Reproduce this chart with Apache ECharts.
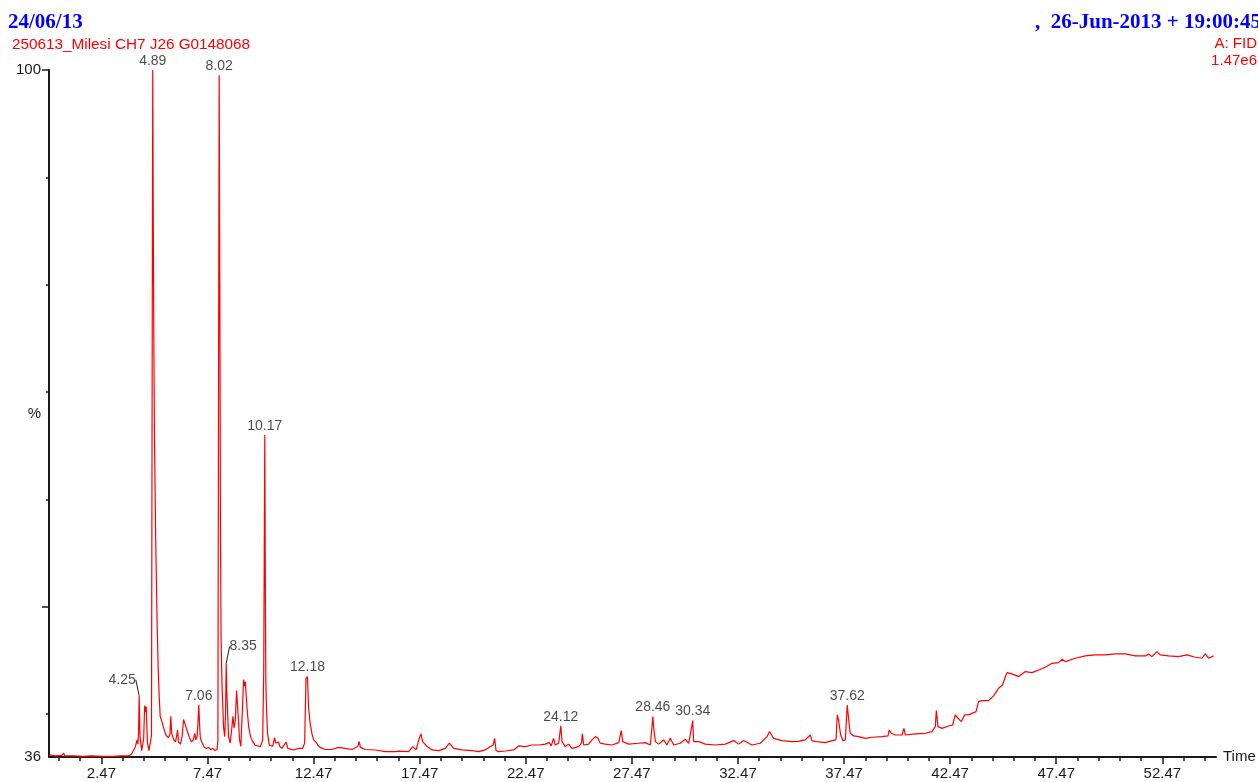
<!DOCTYPE html>
<html>
<head>
<meta charset="utf-8">
<script src="https://cdn.jsdelivr.net/npm/echarts@6/dist/echarts.min.js"></script>
<style>
html,body{margin:0;padding:0;background:#fff;}
#chart{width:1258px;height:782px;}
</style>
</head>
<body>
<div id="chart"></div>
<script>
// Retention time (min)
var times = [
0.02,0.3,0.6,0.69,0.75,1.2,1.6,2.0,2.5,3.0,3.4,3.75,3.9,3.99,4.07,4.15,4.19,4.22,4.25,4.29,4.37,4.46,4.51,4.55,4.58,4.64,4.71,4.79,
4.83,4.86,4.89,4.91,4.94,4.97,5.03,5.10,5.15,5.19,5.24,5.32,5.42,5.52,5.62,5.70,5.74,5.78,5.88,5.96,6.02,6.06,6.10,6.20,6.28,6.34,6.40,6.44,6.52,6.62,6.72,6.80,6.87,6.92,6.98,7.02,7.06,7.09,7.13,7.22,7.32,7.42,7.52,7.62,7.72,7.82,7.92,
7.96,7.99,8.02,8.05,8.08,8.11,8.15,8.18,8.23,8.28,8.32,8.35,8.38,8.41,8.46,8.54,8.62,8.67,8.72,8.78,8.84,8.89,8.93,8.98,9.04,9.12,9.17,9.22,9.25,9.30,9.34,9.41,9.50,9.58,9.72,9.96,
10.07,10.12,10.17,10.20,10.22,10.25,10.30,10.38,10.54,10.63,10.69,10.82,10.87,10.98,11.17,11.26,11.53,11.76,11.95,12.05,12.11,12.18,12.23,12.31,12.39,12.47,12.58,12.67,12.78,13.02,13.33,13.65,13.96,14.28,14.56,14.61,14.68,14.9,15.38,15.85,16.32,
16.48,16.95,17.14,17.30,17.45,17.53,17.61,17.82,18.05,18.37,18.68,18.87,19.07,19.46,19.94,20.25,20.56,20.80,20.93,21.00,21.07,21.19,21.51,21.90,22.13,22.45,22.76,23.08,23.39,23.58,23.67,23.78,23.86,24.02,24.12,24.18,24.33,24.49,24.65,24.96,25.09,25.14,25.20,25.43,25.59,25.75,25.87,25.98,26.22,26.53,26.85,26.97,27.04,27.32,27.79,28.10,28.34,28.46,28.50,28.58,28.73,28.97,29.12,29.28,29.44,29.75,29.99,30.15,30.34,30.38,30.62,30.93,31.40,31.87,32.27,32.50,32.74,33.13,33.52,33.84,33.96,34.15,34.54,35.02,
35.33,35.64,35.88,35.96,36.27,36.59,36.90,37.09,37.15,37.21,37.31,37.42,37.53,37.62,37.69,37.76,37.92,38.16,38.47,38.79,39.26,39.54,39.60,39.70,39.89,40.20,40.29,40.36,40.83,41.30,41.61,41.77,41.82,41.90,42.08,42.40,42.59,42.71,42.84,43.0,43.15,43.34,43.58,43.69,43.81,43.97,44.28,44.52,44.75,44.94,45.10,45.15,45.38,45.70,46.01,46.33,46.64,46.95,47.27,47.58,47.74,47.90,48.37,48.84,49.31,49.78,50.25,50.72,51.20,51.67,51.82,51.98,52.22,52.37,52.77,53.24,53.63,54.02,54.34,54.49,54.65,54.89
];
// Detector response (%)
var response = [
36.2,36.1,36.15,36.35,36.1,36.1,36.05,36.1,36.05,36.05,36.1,36.1,36.3,36.65,36.96,37.6,37.2,38.2,41.7,37.9,36.6,37.7,40.8,40.2,40.7,37.3,36.6,36.5,
38,70,100,88,75,66,56,48,44,41.8,39.8,39.3,38.6,38.0,37.8,38.1,39.8,38.2,37.6,37.4,38.0,38.5,37.4,37.2,38.0,39.5,39.4,38.9,38.4,37.8,37.4,37.6,38.2,37.6,37.9,39.2,40.85,39.3,37.8,37.3,36.9,36.8,36.9,36.7,36.8,36.6,36.7,
37.5,70,99.5,80,58,47,43,41.3,38.7,37.9,40,44.7,42,40.7,37.9,37.3,38.8,39.8,38.7,39.4,42.2,42.1,39.4,37.6,37.0,40.7,43.2,42.6,43.0,42.9,40.4,38.8,37.9,37.5,37.1,36.95,
37.6,44,66,50,43,40.5,38.2,37.1,37.0,37.8,37.3,37.4,37.0,36.8,37.4,36.8,36.65,36.8,36.8,37.3,43.3,43.5,40.7,39.1,38.2,37.6,37.4,37.1,36.9,36.7,36.7,36.9,36.8,36.7,37.0,37.45,36.9,36.7,36.65,36.5,36.5,
36.55,36.5,36.97,36.66,37.74,38.15,37.43,36.97,36.66,36.6,36.8,37.3,36.8,36.66,36.6,36.5,36.66,36.97,37.1,37.74,36.6,36.5,36.56,36.66,37.03,36.97,37.12,37.12,37.2,37.34,37.03,37.74,37.12,37.28,38.9,37.43,36.97,37.2,36.81,36.97,37.28,38.15,37.12,37.2,37.59,37.9,37.74,37.28,37.2,37.12,37.34,38.46,37.43,37.2,37.28,37.34,37.12,39.76,38.68,37.43,37.2,37.59,37.12,37.74,37.12,37.28,37.65,37.28,39.39,37.43,37.43,37.2,37.12,37.2,37.53,37.2,37.53,37.12,37.28,37.9,38.37,37.74,37.53,37.43,
37.45,37.6,38.05,37.5,37.4,37.34,37.52,37.59,39.92,39.45,38.05,37.52,37.59,40.85,39.45,38.21,37.96,37.9,37.74,37.84,37.9,37.96,38.52,38.21,38.05,38.05,38.67,38.05,38.15,38.21,38.36,38.83,40.32,38.83,38.67,38.89,38.98,39.92,39.61,39.3,39.92,39.92,40.13,40.23,41.16,41.25,41.25,41.69,42.4,42.71,43.64,43.86,43.74,43.49,43.96,43.86,44.11,44.36,44.73,44.79,45.1,44.89,45.2,45.42,45.51,45.51,45.6,45.6,45.42,45.42,45.6,45.35,45.82,45.51,45.42,45.35,45.51,45.29,45.2,45.6,45.2,45.42
];
// Labelled peaks
var peakTimes = [4.25, 4.89, 7.06, 8.02, 8.35, 10.17, 12.18, 24.12, 28.46, 30.34, 37.62];
var peakValues = [41.7, 100, 40.85, 99.5, 44.7, 66, 43.5, 38.9, 39.76, 39.39, 40.85];
var peakLabels = ['4.25', '4.89', '7.06', '8.02', '8.35', '10.17', '12.18', '24.12', '28.46', '30.34', '37.62'];
// Axis ticks
var xLabelTicks = [2.47, 7.47, 12.47, 17.47, 22.47, 27.47, 32.47, 37.47, 42.47, 47.47, 52.47];
var xMinorTicks = [0.47,1.47,2.47,3.47,4.47,5.47,6.47,7.47,8.47,9.47,10.47,11.47,12.47,13.47,14.47,15.47,16.47,17.47,18.47,19.47,20.47,21.47,22.47,23.47,24.47,25.47,26.47,27.47,28.47,29.47,30.47,31.47,32.47,33.47,34.47,35.47,36.47,37.47,38.47,39.47,40.47,41.47,42.47,43.47,44.47,45.47,46.47,47.47,48.47,49.47,50.47,51.47,52.47,53.47,54.47];
var yLabelTicks = [36, 100];
var yMajorTicks = [50, 100];
var yMinorTicks = [40, 60, 70, 80, 90];

var traceData = times.map(function (t, i) { return [t, response[i]]; });
var peakData = peakTimes.map(function (t, i) {
  var item = { value: [t, peakValues[i]], name: peakLabels[i] };
  if (peakLabels[i] === '4.25' || peakLabels[i] === '8.35') {
    item.labelLine = { show: true };
  }
  return item;
});

var sans = 'Liberation Sans, Arial, sans-serif';
var serif = 'Liberation Serif, Times New Roman, serif';
var axisColor = '#1a1a1a';

var chart = echarts.init(document.getElementById('chart'), null, { renderer: 'canvas' });
chart.setOption({
  animation: false,
  backgroundColor: '#ffffff',
  title: [
    { text: '24/06/13', left: 8, top: 12, padding: 0, textStyle: { fontFamily: serif, fontWeight: 'bold', fontSize: 21, color: '#0000ff' } },
    { text: '250613_Milesi CH7 J26 G0148068', left: 12, top: 37, padding: 0, textStyle: { fontFamily: sans, fontWeight: 'normal', fontSize: 15.3, color: '#ff0000' } },
    { text: ',  26-Jun-2013 + 19:00:45', left: 1035, top: 12, padding: 0, textStyle: { fontFamily: serif, fontWeight: 'bold', fontSize: 21, color: '#0000ff' } },
    { text: 'A: FID', right: 1, top: 36, padding: 0, textStyle: { fontFamily: sans, fontWeight: 'normal', fontSize: 15, color: '#ff0000' } },
    { text: '1.47e6', right: 1, top: 53, padding: 0, textStyle: { fontFamily: sans, fontWeight: 'normal', fontSize: 15, color: '#ff0000' } }
  ],
  grid: { left: 49, right: 42, top: 70, bottom: 25, containLabel: false, outerBoundsMode: 'none' },
  xAxis: [
    {
      type: 'value', min: 0, max: 55, position: 'bottom',
      name: 'Time', nameLocation: 'end', nameGap: 7, nameMoveOverlap: false,
      nameTextStyle: { fontFamily: sans, fontSize: 15, color: axisColor, verticalAlign: 'middle' },
      axisLine: { show: true, lineStyle: { color: axisColor, width: 2 } },
      axisTick: { show: true, inside: false, length: 7, customValues: xLabelTicks, lineStyle: { color: axisColor, width: 1.5 } },
      axisLabel: { show: true, customValues: xLabelTicks, margin: 9, fontFamily: sans, fontSize: 15, color: axisColor,
        formatter: function (v) { return v.toFixed(2); } },
      splitLine: { show: false }
    },
    {
      type: 'value', min: 0, max: 55, position: 'bottom', offset: 0,
      axisLine: { show: false },
      axisTick: { show: true, inside: false, length: 4, customValues: xMinorTicks, lineStyle: { color: axisColor, width: 1.5 } },
      axisLabel: { show: false },
      splitLine: { show: false }
    }
  ],
  yAxis: [
    {
      type: 'value', min: 36, max: 100, position: 'left',
      name: '%', nameLocation: 'middle', nameGap: 8, nameRotate: 0, nameMoveOverlap: false,
      nameTextStyle: { fontFamily: sans, fontSize: 15, color: axisColor },
      axisLine: { show: true, lineStyle: { color: axisColor, width: 2 } },
      axisTick: { show: true, inside: false, length: 7, customValues: yMajorTicks, lineStyle: { color: axisColor, width: 1.5 } },
      axisLabel: { show: true, customValues: yLabelTicks, margin: 8, fontFamily: sans, fontSize: 15, color: axisColor },
      splitLine: { show: false }
    },
    {
      type: 'value', min: 36, max: 100, position: 'left', offset: 0,
      axisLine: { show: false },
      axisTick: { show: true, inside: false, length: 3, customValues: yMinorTicks, lineStyle: { color: axisColor, width: 1.5 } },
      axisLabel: { show: false },
      splitLine: { show: false }
    }
  ],
  series: [
    {
      type: 'line', name: 'FID', xAxisIndex: 0, yAxisIndex: 0,
      data: traceData, showSymbol: false, symbol: 'none', sampling: null,
      lineStyle: { color: '#ff0000', width: 1.2 },
      z: 3
    },
    {
      type: 'scatter', name: 'peaks', xAxisIndex: 0, yAxisIndex: 0,
      data: peakData, symbolSize: 0.1, itemStyle: { color: 'rgba(0,0,0,0)' },
      label: { show: true, position: 'top', distance: 2, formatter: '{b}', fontFamily: sans, fontSize: 14, color: '#1a1a1a' },
      labelLine: { show: false, smooth: false, lineStyle: { color: '#1a1a1a', width: 1 } },
      labelLayout: function (p) {
        if (p.dataIndex === 0) { return { dx: -17, dy: -7 }; }
        if (p.dataIndex === 4) { return { dx: 17, dy: -8 }; }
        return {};
      },
      z: 4
    }
  ]
});
</script>
</body>
</html>
